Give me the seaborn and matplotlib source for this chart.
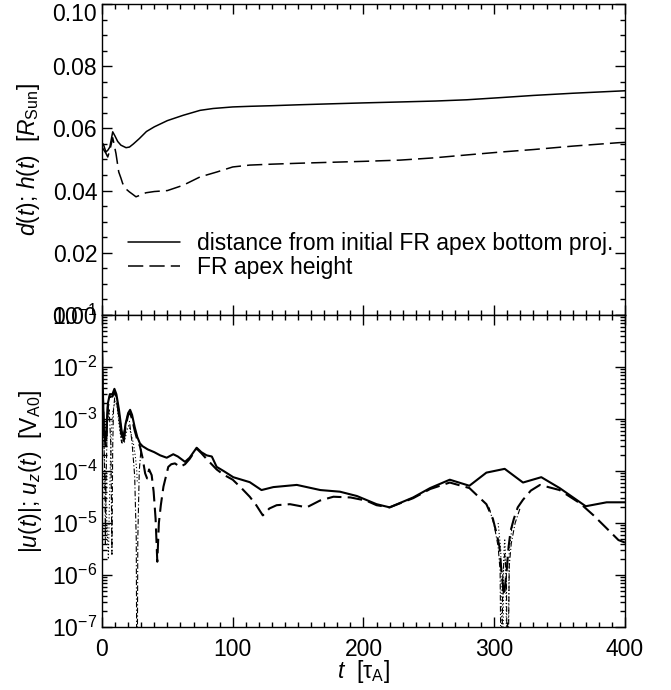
import numpy as np
import pandas as pd
import matplotlib
matplotlib.use("Agg")
import matplotlib.pyplot as plt
import matplotlib.ticker as mticker
import matplotlib.transforms as mtransforms
import seaborn as sns

# ---- top panel: distance / apex height [R_Sun] ----
t_dist = [0, 1, 3, 4.5, 6, 8.2, 10, 12, 14.5, 18.4, 21, 24, 28.5, 34, 40, 50, 62, 75, 85,
          100, 113, 130, 151, 175, 200, 228, 255, 279, 305, 330, 360, 395, 400]
dist = [0.0546, 0.0550, 0.0524, 0.0530, 0.0540, 0.0589, 0.0575, 0.0558, 0.0546, 0.0538, 0.0540,
        0.0550, 0.0567, 0.0590, 0.0605, 0.0625, 0.0642, 0.0658, 0.0664, 0.0669, 0.0671, 0.0673,
        0.0676, 0.0679, 0.0682, 0.0685, 0.0688, 0.0692, 0.0699, 0.0706, 0.0713, 0.0720, 0.0721]

t_height = [0, 1.5, 3, 4.4, 6, 8.2, 10.7, 12.8, 14.5, 15.8, 18.4, 20.9, 23.5, 26, 29, 33.6, 40,
            50, 62, 75, 88, 100, 113, 130, 151, 175, 200, 228, 253, 280, 305, 330, 360, 395, 400]
height = [0.0540, 0.0530, 0.0520, 0.0508, 0.0530, 0.0570, 0.0519, 0.0460, 0.0440, 0.0423, 0.0405,
          0.0396, 0.0388, 0.0380, 0.0385, 0.0393, 0.0397, 0.0400, 0.0417, 0.0444, 0.0460, 0.0476,
          0.0482, 0.0485, 0.0488, 0.0491, 0.0494, 0.0498, 0.0505, 0.0515, 0.0524, 0.0532, 0.0543,
          0.0554, 0.0555]

# ---- bottom panel: velocities [V_A0] ----
t_u = [0, 0.5, 1.5, 3, 4.5, 6, 8, 9.5, 11, 13, 15, 16.5, 18, 20, 21.5, 23, 25, 27, 29, 31, 35,
       40, 44.5, 49.5, 54.5, 58, 63.5, 67, 72.4, 76, 80, 84, 87.7, 93, 100.4, 113, 122, 131, 149,
       167, 182, 195, 210, 220, 238, 251, 266, 281, 294, 308, 322, 336, 350, 370, 386, 400]
u_abs = [2.5e-2, 5e-3, 6e-4, 4e-4, 2e-3, 3e-3, 3e-3, 3.8e-3, 3e-3, 1.5e-3, 6e-4, 4e-4, 8e-4,
         1.3e-3, 1.5e-3, 1.2e-3, 7e-4, 4.5e-4, 3.4e-4, 3e-4, 2.6e-4, 2.3e-4, 2.0e-4, 1.8e-4,
         2.1e-4, 1.9e-4, 1.5e-4, 1.8e-4, 2.8e-4, 2.3e-4, 2.0e-4, 1.9e-4, 1.2e-4, 1.0e-4, 7.6e-5,
         6.1e-5, 4.3e-5, 4.9e-5, 5.4e-5, 4.3e-5, 4.0e-5, 3.3e-5, 2.3e-5, 2.0e-5, 3.1e-5, 4.7e-5,
         6.8e-5, 5.2e-5, 9.3e-5, 1.1e-4, 6.0e-5, 7.6e-5, 4.7e-5, 2.1e-5, 2.5e-5, 2.5e-5]

t_uz = [0, 0.5, 1.5, 3, 4.5, 6, 8, 9.5, 11, 13, 15, 16.5, 18, 20, 21.5, 23, 25, 27, 29, 31, 33,
        34.5, 36, 38, 39.5, 41, 42.3, 43.5, 45, 47, 50.7, 53, 55.8, 59.7, 63.5, 67, 72.4, 76, 80,
        87.7, 93, 100, 107, 113, 118, 123, 128, 133.6, 143.8, 156.6, 166.7, 177, 190, 202, 210,
        220, 238, 251, 266, 281, 294, 299, 302, 304, 305.5, 307.5, 309.5, 311, 312.5, 315, 318,
        322, 328, 335, 350, 365.6, 376, 386, 395, 400]
u_z = [2.2e-2, 4e-3, 5e-4, 3e-4, 1.7e-3, 2.7e-3, 2.7e-3, 3.4e-3, 2.6e-3, 1.2e-3, 5e-4, 3.5e-4,
       7e-4, 1.2e-3, 1.3e-3, 1.0e-3, 6e-4, 4e-4, 3e-4, 1.8e-4, 9e-5, 7.2e-5, 1.07e-4, 8.3e-5,
       4e-5, 1.2e-5, 1.8e-6, 1e-5, 2.2e-5, 5e-5, 1.2e-4, 1.35e-4, 1.4e-4, 1.2e-4, 1.35e-4,
       1.7e-4, 2.7e-4, 2.2e-4, 1.7e-4, 1.07e-4, 8.5e-5, 6.8e-5, 4.6e-5, 3.2e-5, 2.2e-5, 1.4e-5,
       1.9e-5, 2.2e-5, 2.3e-5, 2.0e-5, 2.7e-5, 3.2e-5, 3.1e-5, 2.7e-5, 2.2e-5, 2.0e-5, 3.0e-5,
       4.5e-5, 6.0e-5, 4.7e-5, 2.3e-5, 1.2e-5, 6e-6, 3.5e-6, 1.2e-6, 4e-7, 1.2e-6, 3.5e-6, 7e-6,
       1.2e-5, 2e-5, 2.8e-5, 4.2e-5, 5.4e-5, 4.3e-5, 2.4e-5, 1.4e-5, 7.9e-6, 4.7e-6, 4.2e-6]

# dotted / dash-dot components (only where they are visible)
t_dot_a = [0, 0.8, 1.8, 3, 4.2, 4.9, 5.6, 7, 8.5, 10, 11.5, 13, 15, 17, 19, 20.5, 22, 24, 25.5,
           26.5, 27]
dot_a = [1e-2, 1.5e-3, 2e-4, 3e-5, 5e-6, 2e-6, 2e-5, 5e-4, 1.5e-3, 2.2e-3, 1.8e-3, 8e-4, 3.5e-4,
         3.4e-4, 6e-4, 7.5e-4, 5.5e-4, 3.4e-4, 1.9e-4, 1.1e-4, 6e-5]
t_dot_b = [303, 305, 306.4, 307.2, 308, 308.8, 310, 311.5, 314]
dot_b = [1e-5, 3e-6, 1e-9, 2e-6, 5e-6, 2e-6, 1e-9, 3e-6, 1e-5]

t_dd_a = [0, 0.7, 1.5, 2.2, 2.6, 3.0, 4.0, 5.5, 6.8, 7.6, 8.2, 8.8, 10, 11.5, 13, 15, 17, 19, 21,
          23, 25, 26.2, 26.8, 27.4, 28.5, 30]
dd_a = [2e-2, 3e-3, 4e-4, 5e-5, 4e-6, 5e-5, 8e-4, 1.5e-3, 3e-4, 2.5e-6, 3e-4, 1.5e-3, 3e-3,
        2.5e-3, 1e-3, 3.5e-4, 6e-4, 1e-3, 9e-4, 3.5e-4, 8e-5, 5e-6, 1e-9, 5e-6, 1e-4, 3e-4]
t_dd_b = [296, 300, 303, 304.5, 305.6, 306.5, 308, 309.3, 310.2, 311.5, 313, 316, 320]
dd_b = [2e-5, 9e-6, 3.5e-6, 1.2e-6, 1e-9, 1e-6, 2.5e-6, 1e-6, 1e-9, 1.5e-6, 4e-6, 1e-5, 2e-5]

sns.set_theme(style="ticks")
plt.rcParams['font.family'] = ['Liberation Sans', 'DejaVu Sans']
plt.rcParams['mathtext.fontset'] = 'custom'
plt.rcParams['mathtext.rm'] = 'Liberation Sans'
plt.rcParams['mathtext.it'] = 'Liberation Sans:italic'
plt.rcParams['mathtext.bf'] = 'Liberation Sans:bold'
plt.rcParams['axes.linewidth'] = 1.0
plt.rcParams['axes.edgecolor'] = 'black'
plt.rcParams['text.color'] = 'black'
plt.rcParams['axes.labelcolor'] = 'black'
plt.rcParams['xtick.color'] = 'black'
plt.rcParams['ytick.color'] = 'black'

FS = 16.5
fig = plt.figure(figsize=(6.71, 6.90), dpi=100)
ax1 = fig.add_axes([0.152, 0.5435, 0.7794, 0.4507])
ax2 = fig.add_axes([0.152, 0.0913, 0.7794, 0.4522])

# top panel
sns.lineplot(x=t_dist, y=dist, ax=ax1, color='black', lw=1.1,
             label="distance from initial FR apex bottom proj.")
sns.lineplot(x=t_height, y=height, ax=ax1, color='black', lw=1.1, linestyle=(0, (10, 4)),
             label="FR apex height")
ax1.set_xlim(0, 400)
ax1.set_ylim(0, 0.10)
ax1.yaxis.set_major_locator(mticker.MultipleLocator(0.02))
ax1.yaxis.set_minor_locator(mticker.MultipleLocator(0.005))
ax1.yaxis.set_major_formatter(mticker.FormatStrFormatter('%.2f'))
ax1.xaxis.set_major_locator(mticker.MultipleLocator(100))
ax1.xaxis.set_minor_locator(mticker.MultipleLocator(10))
ax1.set_xticklabels([])
ax1.set_xlabel("")
ax1.set_ylabel(r"$d(t)$; $h(t)$  [$R_{\mathrm{Sun}}$]", fontsize=FS)
ax1.yaxis.set_label_coords(-0.115, 0.5)
ax1.legend(loc='upper left', bbox_to_anchor=(0.05, 0.267), frameon=False, fontsize=FS,
           handlelength=2.27, handletextpad=0.74, labelspacing=0.05, borderpad=0,
           borderaxespad=0)

# bottom panel
sns.lineplot(x=t_dd_a, y=dd_a, ax=ax2, color='black', lw=0.8, linestyle=(0, (5, 2, 1, 2)))
sns.lineplot(x=t_dd_b, y=dd_b, ax=ax2, color='black', lw=0.8, linestyle=(0, (5, 2, 1, 2)))
sns.lineplot(x=t_dot_a, y=dot_a, ax=ax2, color='black', lw=0.8, linestyle=(0, (1, 2)))
sns.lineplot(x=t_dot_b, y=dot_b, ax=ax2, color='black', lw=0.8, linestyle=(0, (1, 2)))
sns.lineplot(x=t_uz, y=u_z, ax=ax2, color='black', lw=1.5, linestyle=(0, (7, 3)))
sns.lineplot(x=t_u, y=u_abs, ax=ax2, color='black', lw=1.5)
ax2.set_yscale('log')
ax2.set_xlim(0, 400)
ax2.set_ylim(1e-7, 1e-1)
ax2.yaxis.set_major_locator(mticker.LogLocator(base=10, numticks=10))
ax2.yaxis.set_minor_locator(mticker.LogLocator(base=10, subs=np.arange(2, 10), numticks=20))
ax2.yaxis.set_minor_formatter(mticker.NullFormatter())
ax2.xaxis.set_major_locator(mticker.MultipleLocator(100))
ax2.xaxis.set_minor_locator(mticker.MultipleLocator(10))
ax2.set_xlabel(r"$t$  [$\mathrm{\tau}_{\mathrm{A}}$]", fontsize=FS, labelpad=-2)
ax2.set_ylabel(r"$|u(t)|$; $u_z(t)$  [V$_{\mathrm{A0}}$]", fontsize=FS)
ax2.yaxis.set_label_coords(-0.110, 0.5)

for ax in (ax1, ax2):
    ax.tick_params(which='both', direction='in', top=True, right=True, width=1.0,
                   labelsize=FS, colors='black')
    ax.tick_params(which='major', length=7.2)
    ax.tick_params(which='minor', length=3.6)
    ax.tick_params(axis='y', pad=3.5)
    ax.tick_params(axis='x', pad=8)
    for s in ax.spines.values():
        s.set_color('black')

# nudge the top "0.10" label down so it stays inside the figure
fig.canvas.draw()
shift = mtransforms.ScaledTranslation(0, -8 / 100, fig.dpi_scale_trans)
for lab in ax1.get_yticklabels():
    if lab.get_text() == '0.10':
        lab.set_transform(lab.get_transform() + shift)

fig.savefig("out.png", dpi=100)
